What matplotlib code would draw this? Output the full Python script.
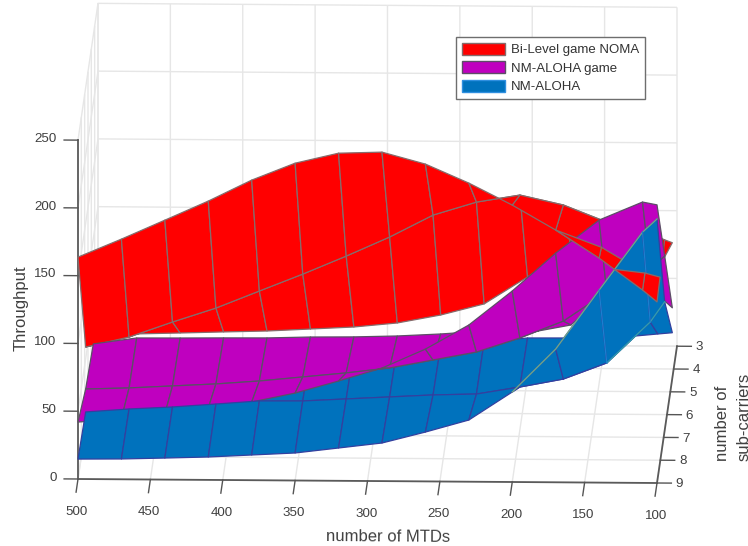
import numpy as np
import matplotlib
matplotlib.use("Agg")
import matplotlib.pyplot as plt
from matplotlib.patches import Patch
from matplotlib.transforms import Affine2D
from mpl_toolkits.mplot3d import proj3d

plt.rcParams['font.family'] = ['Liberation Sans', 'DejaVu Sans']

# ---- data -----------------------------------------------------------------
mtds = [500, 470, 440, 410, 380, 350, 320, 290, 260, 230, 200, 170, 140, 110, 100]
subcarriers = [9.0, 6.7, 4.4]

red_r0 = [163.7, 177.2, 191.4, 205.7, 221.4, 234.1, 241.7, 242.7, 234.1, 220.3, 204.3, 186.1, 165.6, 142.3, 133.6]
red_r1 = [58.7, 66.3, 77.6, 88.1, 100.9, 113.6, 127.1, 141.4, 157.8, 167.6, 173.0, 165.9, 153.5, 144.2, 140.7]
red_r2 = [21.5, 29.9, 30.8, 31.8, 32.7, 34.4, 36.1, 39.3, 45.4, 53.8, 73.9, 95.5, 101.6, 80.0, 99.9]

pur_r0 = [42.0, 44.5, 48.4, 53.0, 57.7, 64.5, 73.6, 83.4, 97.6, 115.6, 140.9, 169.1, 193.7, 207.2, 205.2]
pur_r1 = [27.7, 28.7, 30.4, 32.1, 34.5, 37.7, 40.9, 44.8, 50.9, 57.0, 67.6, 80.3, 101.9, 118.4, 128.9]
pur_r2 = [22.3, 26.9, 27.1, 27.4, 27.6, 28.5, 28.8, 29.7, 31.4, 33.8, 32.6, 38.7, 68.4, 61.3, 51.9]

blu_r0 = [14.7, 15.0, 15.9, 16.9, 18.6, 20.3, 24.2, 28.1, 36.4, 45.5, 66.4, 98.3, 142.0, 185.0, 194.8]
blu_r1 = [10.8, 13.2, 14.9, 17.3, 19.8, 20.0, 21.7, 23.4, 25.1, 26.0, 31.4, 37.5, 49.6, 80.0, 95.0]
blu_r2 = [9.0, 10.7, 12.4, 14.1, 15.8, 17.5, 19.2, 20.9, 22.6, 25.7, 28.9, 29.1, 29.4, 32.5, 33.5]

# parts of the red surface that rise in front of the other two
sliver_a_x = [170, 140, 110]
sliver_a_front = [186.1, 165.6, 142.3]
sliver_a_top_y = [9.0, 8.31, 8.29]
sliver_a_top_z = [186.1, 162.0, 142.9]
sliver_b_x = [129.5, 110, 100]
sliver_b_front = [157.4, 142.3, 133.6]
sliver_b_top_y = [9.0, 8.29, 8.08]
sliver_b_top_z = [157.4, 142.9, 136.4]

x_ticks = [100, 150, 200, 250, 300, 350, 400, 450, 500]
y_ticks = [3, 4, 5, 6, 7, 8, 9]
z_ticks = [0, 50, 100, 150, 200, 250]
series_names = ['Bi-Level game NOMA', 'NM-ALOHA game', 'NM-ALOHA']
RED, PUR, BLU = '#ff0000', '#bf00bf', '#0072bd'
E_RED, E_PUR, E_BLU = '#856c6c', '#5c4f66', '#33409f'
W, H = 748, 546

# ---- axes -----------------------------------------------------------------
fig = plt.figure(figsize=(W / 100, H / 100), dpi=100, facecolor='white')
ax = fig.add_axes([0.1, 0.1, 0.8, 0.8], projection='3d', computed_zorder=False)
ax.set_proj_type('ortho')
ax.set_xlim(100, 500, view_margin=0)
ax.set_ylim(3, 9, view_margin=0)
ax.set_zlim(0, 250, view_margin=0)
ax.view_init(elev=12.56, azim=91.82)
ax.set_box_aspect((579, 629, 347))

X, Y = np.meshgrid(np.array(mtds, float), np.array(subcarriers))
Z_red = np.array([red_r0, red_r1, red_r2])
Z_pur = np.array([pur_r0, pur_r1, pur_r2])
Z_blu = np.array([blu_r0, blu_r1, blu_r2])


def surf(x, y, z, col, edge, order):
    ax.plot_surface(x, y, z, rstride=1, cstride=1, color=col, edgecolor=edge,
                    linewidth=0.9, shade=False, antialiased=True, zorder=order)


surf(X, Y, Z_red, RED, E_RED, 2)
surf(X[1:], Y[1:], Z_blu[1:], BLU, E_BLU, 3)
surf(X, Y, Z_pur, PUR, E_PUR, 4)
xa = np.array([sliver_a_x, sliver_a_x], float)
ya = np.array([np.full(3, 9.0), sliver_a_top_y])
za = np.array([sliver_a_front, sliver_a_top_z])
surf(xa, ya, za, RED, E_RED, 5)
surf(X[:2], Y[:2], Z_blu[:2], BLU, E_BLU, 6)
ax.plot(X[0, 10:], Y[0, 10:], Z_blu[0, 10:], color='#6fa58a', lw=1.0, zorder=7)
ax.plot(X[1, 12:], Y[1, 12:], Z_blu[1, 12:], color='#2f9fae', lw=1.0, zorder=7)
for c in (12, 13):
    ax.plot(X[:2, c], Y[:2, c], Z_blu[:2, c], color='#1c80cf', lw=0.9, zorder=7)
xb = np.array([sliver_b_x, sliver_b_x], float)
yb = np.array([np.full(3, 9.0), sliver_b_top_y])
zb = np.array([sliver_b_front, sliver_b_top_z])
surf(xb, yb, zb, RED, E_RED, 8)

# ---- axis dressing --------------------------------------------------------
ax.set_xticks(x_ticks)
ax.set_yticks(y_ticks)
ax.set_zticks(z_ticks)
ax.tick_params(labelsize=9.6, labelcolor='#404040', color='#555555', pad=4)
ax.xaxis.set_tick_params(pad=11)
ax.yaxis.set_tick_params(pad=5)
for axis, out in ((ax.xaxis, -1.2), (ax.yaxis, -0.31), (ax.zaxis, 0.3)):
    axis.set_pane_color((1, 1, 1, 0))
    axis.pane.set_edgecolor('#e6e6e6')
    axis._axinfo['grid'].update(color='#e6e6e6', linewidth=1.0)
    axis.line.set_color('#5a5a5a')
    axis.line.set_linewidth(1.3)
    axis._axinfo['tick'].update(color='#555555', linewidth={True: 1.0, False: 0.5},
                                inward_factor=0.0, outward_factor=out)
ax.zaxis.set_ticks_position('upper')
ax.zaxis.set_label_position('upper')
ax.zaxis._get_tickdir = lambda position: 0    # z ticks run along the x direction
for t in ax.zaxis.get_major_ticks():
    t.label1.set_va('bottom')
    t.label1.set_ha('right')
ax.set_xlabel('number of MTDs', fontsize=12, color='#404040', labelpad=8)
ax.set_zlabel('Throughput', fontsize=12, color='#404040', labelpad=8)
ax.set_ylabel('number of\nsub-carriers', fontsize=12, color='#404040', labelpad=14,
              linespacing=1.5, multialignment='left')
ax.yaxis.set_rotate_label(False)
ax.yaxis.label.set_rotation(90)
ax.zaxis.set_rotate_label(False)
ax.zaxis.label.set_rotation(90)


def nudge(label, dx, dy):
    """Axis3D resets the label transform on each draw, so shift it just before drawing."""
    base_draw = label.draw

    def draw(renderer):
        label._transform = ax.transData + Affine2D().translate(dx, dy)
        base_draw(renderer)
    label.draw = draw


nudge(ax.xaxis.label, 22, -15)
nudge(ax.yaxis.label, 6, 33)
nudge(ax.zaxis.label, -5.5, 13)
for t in ax.yaxis.get_major_ticks():
    t.label1.set_va('bottom')
    nudge(t.label1, 0, 6)

handles = [Patch(facecolor=c, edgecolor=e, linewidth=1.0)
           for c, e in ((RED, E_RED), (PUR, E_PUR), (BLU, '#2f8fe0'))]
fig.legend(handles, series_names, loc='upper left',
           bbox_to_anchor=(456 / W, 1 - 37 / H), bbox_transform=fig.transFigure,
           fontsize=9.5, frameon=True, fancybox=False, framealpha=1,
           edgecolor='#6e6e6e', labelcolor='#333333', borderpad=0.45,
           labelspacing=0.38, handlelength=3.3, handleheight=1.0, handletextpad=0.4,
           borderaxespad=0)


# ---- fit the projected box onto the reference placement --------------------
def px(p):
    fig.canvas.draw()
    xp, yp, _ = proj3d.proj_transform(p[0], p[1], p[2], ax.get_proj())
    return ax.transData.transform((xp, yp))


for _ in range(4):
    a = px((500, 9, 0))
    b = px((100, 9, 0))
    ta = np.array([78, H - 479.0])
    tb = np.array([657, H - 483.0])
    r = np.linalg.norm(tb - ta) / np.linalg.norm(b - a)
    pos = ax.get_position(original=True)
    cx, cy = (pos.x0 + pos.x1) / 2 * W, (pos.y0 + pos.y1) / 2 * H
    side = min(pos.width * W, pos.height * H) * r
    new_c = ta + (np.array([cx, cy]) - a) * r
    ax.set_position([(new_c[0] - side / 2) / W, (new_c[1] - side / 2) / H, side / W, side / H])

fig.savefig('out.png', dpi=100)
